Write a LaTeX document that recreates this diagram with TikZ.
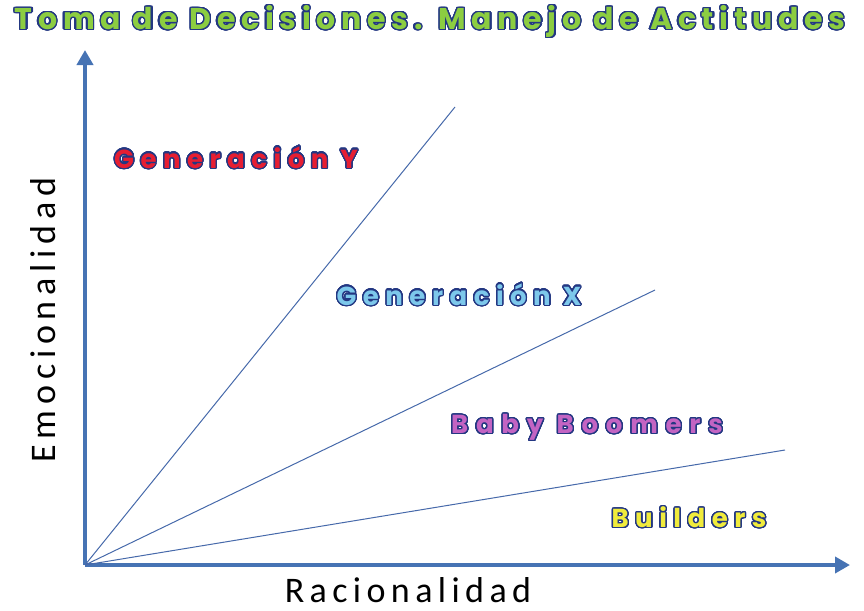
\documentclass[tikz,border=0pt]{standalone}
\usepackage{fontspec}
\usepackage{contour}
\usetikzlibrary{arrows.meta}
\newfontfamily\titlefont[LetterSpace=19]{Poppins Bold}
\newfontfamily\labfont[LetterSpace=25]{Poppins Bold}
\newfontfamily\labfontw[LetterSpace=30]{Poppins Bold}
\newfontfamily\emofont[LetterSpace=16]{Carlito}
\newfontfamily\racfont[LetterSpace=15]{Carlito}
\definecolor{axisblue}{RGB}{70,115,180}
\definecolor{lineblue}{RGB}{70,105,170}
\definecolor{outl}{RGB}{35,55,130}
\definecolor{tgreen}{RGB}{140,205,65}
\definecolor{gyred}{RGB}{230,30,50}
\definecolor{gxblue}{RGB}{125,200,235}
\definecolor{bbpurple}{RGB}{195,100,195}
\definecolor{bdyellow}{RGB}{240,235,60}
\contourlength{1.3pt}
\contournumber{32}
\newcommand{\outltext}[2]{\contour{outl}{\textcolor{#1}{#2}}}
\tikzset{
  axisline/.style={draw=axisblue, line width=4pt, -{Triangle[length=15pt,width=16pt]}},
  sepline/.style={draw=lineblue, line width=1pt},
  genlabel/.style={inner sep=0pt, font=\labfont\fontsize{26}{30}\selectfont},
  axlabel/.style={inner sep=0pt, anchor=base}
}
\begin{document}
\begin{tikzpicture}[x=1pt,y=-1pt]
\useasboundingbox (0,0) rectangle (864,610);
\coordinate (O) at (85,565);
\coordinate (ytip) at (85,50);
\coordinate (xtip) at (850,565);
\coordinate (l1) at (455,107);
\coordinate (l2) at (655,290);
\coordinate (l3) at (785,450);
\draw[axisline] (O) -- (ytip);
\draw[axisline] (O) -- (xtip);
\draw[sepline] (O) -- (l1);
\draw[sepline] (O) -- (l2);
\draw[sepline] (O) -- (l3);
\node[inner sep=0pt, font=\titlefont\fontsize{30}{34}\selectfont] (title) at (430,22) {\outltext{tgreen}{Toma de Decisiones. Manejo de Actitudes}};
\node[genlabel] (gy) at (236,158) {\outltext{gyred}{Generación Y}};
\node[genlabel] (gx) at (459,295) {\outltext{gxblue}{Generación X}};
\node[genlabel, font=\labfontw\fontsize{26}{30}\selectfont] (bb) at (587,428) {\outltext{bbpurple}{Baby Boomers}};
\node[genlabel] (bd) at (689,518) {\outltext{bdyellow}{Builders}};
\node[axlabel, rotate=90, font=\emofont\fontsize{36}{40}\selectfont] (emo) at (55,320) {Emocionalidad};
\node[axlabel, font=\racfont\fontsize{36}{40}\selectfont] (rac) at (408,602) {Racionalidad};
\end{tikzpicture}
\end{document}
